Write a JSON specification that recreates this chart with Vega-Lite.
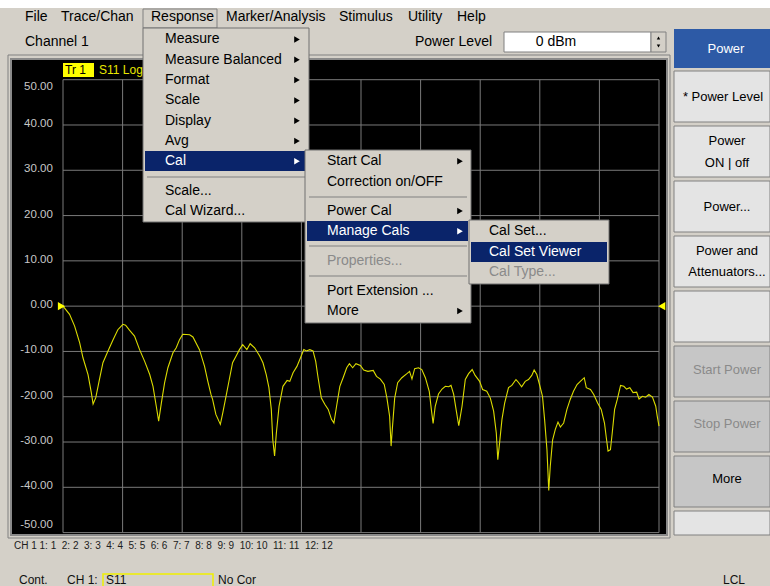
{
"$schema":"https://vega.github.io/schema/vega-lite/v6.json",
"width":656,"height":476,
"autosize":{"type":"none"},
"padding":{"left":11,"top":59,"right":103,"bottom":51},
"background":"#d4d0c8",
"config":{"view":{"fill":"#000000","stroke":"#8a8a8a","strokeWidth":2},"text":{"font":"Liberation Sans"}},
"datasets":{
"trace":[{"i":0,"db":0},{"i":2.2,"db":-1.8},{"i":3.9,"db":-4.4},{"i":5.6,"db":-8.1},{"i":6.7,"db":-11.4},{"i":8.4,"db":-15.1},{"i":9.5,"db":-19.1},{"i":10.1,"db":-21.6},{"i":11,"db":-20.2},{"i":12.1,"db":-16.6},{"i":13.4,"db":-12.5},{"i":15.1,"db":-9.9},{"i":16.8,"db":-7.4},{"i":18.4,"db":-5.2},{"i":20.1,"db":-4.0},{"i":21,"db":-4.2},{"i":22.3,"db":-5.3},{"i":24,"db":-6.6},{"i":25.7,"db":-9.6},{"i":27.4,"db":-12.2},{"i":29.1,"db":-15.1},{"i":30.2,"db":-17.7},{"i":31.3,"db":-22.1},{"i":32.1,"db":-25.4},{"i":33,"db":-21.4},{"i":34.1,"db":-16.9},{"i":35.2,"db":-13.6},{"i":36.9,"db":-10.3},{"i":38,"db":-9.2},{"i":39.1,"db":-7.4},{"i":40.2,"db":-6.2},{"i":42.5,"db":-6.3},{"i":43.6,"db":-6.8},{"i":45.8,"db":-9.6},{"i":47.5,"db":-13.3},{"i":48.6,"db":-16.6},{"i":49.7,"db":-19.6},{"i":50.2,"db":-20.6},{"i":51.3,"db":-23.9},{"i":52.8,"db":-26.1},{"i":53.6,"db":-23.6},{"i":54.7,"db":-19.9},{"i":55.8,"db":-16.2},{"i":56.9,"db":-12.5},{"i":58.1,"db":-11.0},{"i":59.2,"db":-9.6},{"i":60.3,"db":-8.5},{"i":61.7,"db":-9.6},{"i":62.8,"db":-8.3},{"i":64.3,"db":-9.2},{"i":66,"db":-11.0},{"i":67.1,"db":-12.5},{"i":68.2,"db":-15.1},{"i":69.1,"db":-18.0},{"i":69.9,"db":-22.8},{"i":70.4,"db":-29.5},{"i":71,"db":-33.1},{"i":71.6,"db":-28.0},{"i":72.5,"db":-22.1},{"i":73.8,"db":-17.7},{"i":75.2,"db":-16.4},{"i":76.1,"db":-16.6},{"i":77.2,"db":-14.7},{"i":78.5,"db":-13.3},{"i":79.7,"db":-11.4},{"i":80.8,"db":-9.6},{"i":81.7,"db":-9.9},{"i":82.8,"db":-9.6},{"i":83.9,"db":-9.9},{"i":84.8,"db":-12.2},{"i":85.6,"db":-15.8},{"i":86.7,"db":-20.3},{"i":87.9,"db":-21.7},{"i":89,"db":-22.8},{"i":90.1,"db":-25.0},{"i":90.9,"db":-25.8},{"i":91.8,"db":-22.1},{"i":92.9,"db":-17.7},{"i":94,"db":-15.8},{"i":95.2,"db":-13.6},{"i":96.1,"db":-12.7},{"i":97.2,"db":-13.6},{"i":98.3,"db":-12.7},{"i":99.8,"db":-13.1},{"i":100.9,"db":-14.1},{"i":102.3,"db":-14.4},{"i":104.1,"db":-14.2},{"i":105.2,"db":-15.5},{"i":106.5,"db":-16.1},{"i":107.8,"db":-17.3},{"i":108.7,"db":-20.3},{"i":109.6,"db":-24.3},{"i":110.1,"db":-30.9},{"i":110.5,"db":-27.2},{"i":111.3,"db":-20.3},{"i":112.3,"db":-16.9},{"i":113.7,"db":-15.8},{"i":115.4,"db":-14.9},{"i":116.3,"db":-14.4},{"i":117.1,"db":-16.1},{"i":118,"db":-13.8},{"i":119.3,"db":-13.6},{"i":120.4,"db":-14.0},{"i":121.6,"db":-15.8},{"i":122.9,"db":-18.8},{"i":123.6,"db":-22.8},{"i":124.2,"db":-25.9},{"i":124.9,"db":-22.1},{"i":126,"db":-19.4},{"i":127.2,"db":-18.3},{"i":128.3,"db":-17.7},{"i":129.4,"db":-17.8},{"i":130.2,"db":-17.5},{"i":131.1,"db":-19.5},{"i":131.9,"db":-22.8},{"i":132.8,"db":-26.4},{"i":133.9,"db":-22.1},{"i":135,"db":-16.2},{"i":136.1,"db":-14.9},{"i":137.3,"db":-14.0},{"i":138.3,"db":-15.3},{"i":139.8,"db":-16.6},{"i":140.8,"db":-18.4},{"i":142.2,"db":-18.8},{"i":143.4,"db":-20.3},{"i":144.5,"db":-23.2},{"i":145.4,"db":-28.0},{"i":145.9,"db":-33.9},{"i":146.5,"db":-30.2},{"i":147.3,"db":-25.0},{"i":148.2,"db":-21.4},{"i":149.5,"db":-18.0},{"i":150.6,"db":-17.5},{"i":152,"db":-16.2},{"i":152.8,"db":-16.8},{"i":153.9,"db":-17.8},{"i":155.1,"db":-16.6},{"i":156.2,"db":-16.2},{"i":157.3,"db":-15.3},{"i":158.1,"db":-14.1},{"i":159,"db":-15.1},{"i":159.9,"db":-17.3},{"i":160.9,"db":-19.9},{"i":161.6,"db":-25.0},{"i":162.4,"db":-31.7},{"i":163,"db":-40.7},{"i":163.5,"db":-35.4},{"i":164.3,"db":-29.5},{"i":165.2,"db":-27.2},{"i":166.1,"db":-25.6},{"i":166.9,"db":-26.7},{"i":168,"db":-25.8},{"i":169.1,"db":-22.8},{"i":170.2,"db":-20.6},{"i":171.3,"db":-18.8},{"i":172.5,"db":-17.3},{"i":173.6,"db":-16.6},{"i":174.9,"db":-15.8},{"i":175.6,"db":-18.0},{"i":177,"db":-18.4},{"i":178.1,"db":-19.5},{"i":179.4,"db":-21.4},{"i":180.6,"db":-22.8},{"i":181.7,"db":-25.8},{"i":182.4,"db":-29.5},{"i":182.9,"db":-32.0},{"i":183.7,"db":-31.7},{"i":184.3,"db":-28.0},{"i":185.1,"db":-22.8},{"i":186,"db":-20.6},{"i":187.1,"db":-17.5},{"i":188.2,"db":-17.7},{"i":189.1,"db":-18.3},{"i":190.2,"db":-18.0},{"i":191.3,"db":-19.1},{"i":192.5,"db":-19.0},{"i":193.3,"db":-20.5},{"i":194.4,"db":-19.9},{"i":195.5,"db":-20.1},{"i":196.6,"db":-19.5},{"i":197.8,"db":-20.1},{"i":198.9,"db":-22.1},{"i":199.4,"db":-24.3},{"i":200,"db":-26.5}],
"hgrid":[{"v":50,"lab":"50.00"},{"v":40,"lab":"40.00"},{"v":30,"lab":"30.00"},{"v":20,"lab":"20.00"},{"v":10,"lab":"10.00"},{"v":0,"lab":"0.00"},{"v":-10,"lab":"-10.00"},{"v":-20,"lab":"-20.00"},{"v":-30,"lab":"-30.00"},{"v":-40,"lab":"-40.00"},{"v":-50,"lab":"-50.00"}],
"vgrid":[{"i":0},{"i":20},{"i":40},{"i":60},{"i":80},{"i":100},{"i":120},{"i":140},{"i":160},{"i":180},{"i":200}]
},
"resolve":{"scale":{"x":"independent","y":"independent"}},
"layer":[
{"layer":[
{"data":{"name":"vgrid"},"mark":{"type":"rule","stroke":"#7a7a7a","strokeWidth":1},"encoding":{"x":{"field":"i","type":"quantitative","scale":{"domain":[-17.45,202.68],"nice":false,"zero":false},"axis":null},"y":{"datum":50,"type":"quantitative","scale":{"domain":[-50.53,54.57],"nice":false,"zero":false},"axis":null},"y2":{"datum":-50}}},
{"data":{"name":"hgrid"},"mark":{"type":"rule","stroke":"#7a7a7a","strokeWidth":1},"encoding":{"y":{"field":"v","type":"quantitative","scale":{"domain":[-50.53,54.57],"nice":false,"zero":false},"axis":null},"x":{"datum":0,"type":"quantitative","scale":{"domain":[-17.45,202.68],"nice":false,"zero":false},"axis":null},"x2":{"datum":200}}},
{"data":{"name":"trace"},"mark":{"type":"line","stroke":"#dcdc00","strokeWidth":1.1},"encoding":{"x":{"field":"i","type":"quantitative","scale":{"domain":[-17.45,202.68],"nice":false,"zero":false},"axis":null},"y":{"field":"db","type":"quantitative","scale":{"domain":[-50.53,54.57],"nice":false,"zero":false},"axis":null}}},
{"data":{"name":"hgrid"},"transform":[{"filter":"datum.v > -50 && datum.v < 50"}],"mark":{"type":"text","align":"right","baseline":"middle","fontSize":11.5,"color":"#c8c8c8","dy":-1},"encoding":{"x":{"datum":-3.4,"type":"quantitative","scale":{"domain":[-17.45,202.68],"nice":false,"zero":false},"axis":null},"y":{"field":"v","type":"quantitative","scale":{"domain":[-50.53,54.57],"nice":false,"zero":false},"axis":null},"text":{"field":"lab"}}},
{"data":{"name":"hgrid"},"transform":[{"filter":"datum.v == 50"}],"mark":{"type":"text","align":"right","baseline":"top","fontSize":11.5,"color":"#c8c8c8","dy":1},"encoding":{"x":{"datum":-3.4,"type":"quantitative","scale":{"domain":[-17.45,202.68],"nice":false,"zero":false},"axis":null},"y":{"field":"v","type":"quantitative","scale":{"domain":[-50.53,54.57],"nice":false,"zero":false},"axis":null},"text":{"field":"lab"}}},
{"data":{"name":"hgrid"},"transform":[{"filter":"datum.v == -50"}],"mark":{"type":"text","align":"right","baseline":"bottom","fontSize":11.5,"color":"#c8c8c8","dy":-3},"encoding":{"x":{"datum":-3.4,"type":"quantitative","scale":{"domain":[-17.45,202.68],"nice":false,"zero":false},"axis":null},"y":{"field":"v","type":"quantitative","scale":{"domain":[-50.53,54.57],"nice":false,"zero":false},"axis":null},"text":{"field":"lab"}}},
{"data":{"values":[{}]},"mark":{"type":"point","shape":"triangle-right","filled":true,"color":"#ffff00","size":70,"opacity":1},"encoding":{"x":{"datum":-0.5,"type":"quantitative","scale":{"domain":[-17.45,202.68],"nice":false,"zero":false},"axis":null},"y":{"datum":0,"type":"quantitative","scale":{"domain":[-50.53,54.57],"nice":false,"zero":false},"axis":null}}},
{"data":{"values":[{}]},"mark":{"type":"point","shape":"triangle-left","filled":true,"color":"#ffff00","size":70,"opacity":1},"encoding":{"x":{"datum":200.9,"type":"quantitative","scale":{"domain":[-17.45,202.68],"nice":false,"zero":false},"axis":null},"y":{"datum":0,"type":"quantitative","scale":{"domain":[-50.53,54.57],"nice":false,"zero":false},"axis":null}}}
]},
{"layer":[
{"data":{"values":[{}]},"mark":{"type":"rect","fill":"#ffffff"},"encoding":{"x":{"datum":0,"type":"quantitative","scale":{"domain":[11,667],"nice":false,"zero":false},"axis":null},"x2":{"datum":770},"y":{"datum":0,"type":"quantitative","scale":{"domain":[59,535],"reverse":true,"nice":false,"zero":false},"axis":null},"y2":{"datum":8}}},
{"data":{"values":[{}]},"mark":{"type":"rect","fill":"#d4d0c8","stroke":"#808080","strokeWidth":1},"encoding":{"x":{"datum":143,"type":"quantitative","scale":{"domain":[11,667],"nice":false,"zero":false},"axis":null},"x2":{"datum":217},"y":{"datum":9,"type":"quantitative","scale":{"domain":[59,535],"reverse":true,"nice":false,"zero":false},"axis":null},"y2":{"datum":28}}},
{"data":{"values":[{}]},"mark":{"type":"text","align":"left","baseline":"middle","fontSize":14,"color":"#000000"},"encoding":{"x":{"datum":25,"type":"quantitative","scale":{"domain":[11,667],"nice":false,"zero":false},"axis":null},"y":{"datum":17,"type":"quantitative","scale":{"domain":[59,535],"reverse":true,"nice":false,"zero":false},"axis":null},"text":{"value":"File"}}},
{"data":{"values":[{}]},"mark":{"type":"text","align":"left","baseline":"middle","fontSize":14,"color":"#000000"},"encoding":{"x":{"datum":61,"type":"quantitative","scale":{"domain":[11,667],"nice":false,"zero":false},"axis":null},"y":{"datum":17,"type":"quantitative","scale":{"domain":[59,535],"reverse":true,"nice":false,"zero":false},"axis":null},"text":{"value":"Trace/Chan"}}},
{"data":{"values":[{}]},"mark":{"type":"text","align":"left","baseline":"middle","fontSize":14,"color":"#000000"},"encoding":{"x":{"datum":151,"type":"quantitative","scale":{"domain":[11,667],"nice":false,"zero":false},"axis":null},"y":{"datum":17,"type":"quantitative","scale":{"domain":[59,535],"reverse":true,"nice":false,"zero":false},"axis":null},"text":{"value":"Response"}}},
{"data":{"values":[{}]},"mark":{"type":"text","align":"left","baseline":"middle","fontSize":14,"color":"#000000"},"encoding":{"x":{"datum":226,"type":"quantitative","scale":{"domain":[11,667],"nice":false,"zero":false},"axis":null},"y":{"datum":17,"type":"quantitative","scale":{"domain":[59,535],"reverse":true,"nice":false,"zero":false},"axis":null},"text":{"value":"Marker/Analysis"}}},
{"data":{"values":[{}]},"mark":{"type":"text","align":"left","baseline":"middle","fontSize":14,"color":"#000000"},"encoding":{"x":{"datum":339,"type":"quantitative","scale":{"domain":[11,667],"nice":false,"zero":false},"axis":null},"y":{"datum":17,"type":"quantitative","scale":{"domain":[59,535],"reverse":true,"nice":false,"zero":false},"axis":null},"text":{"value":"Stimulus"}}},
{"data":{"values":[{}]},"mark":{"type":"text","align":"left","baseline":"middle","fontSize":14,"color":"#000000"},"encoding":{"x":{"datum":408,"type":"quantitative","scale":{"domain":[11,667],"nice":false,"zero":false},"axis":null},"y":{"datum":17,"type":"quantitative","scale":{"domain":[59,535],"reverse":true,"nice":false,"zero":false},"axis":null},"text":{"value":"Utility"}}},
{"data":{"values":[{}]},"mark":{"type":"text","align":"left","baseline":"middle","fontSize":14,"color":"#000000"},"encoding":{"x":{"datum":457,"type":"quantitative","scale":{"domain":[11,667],"nice":false,"zero":false},"axis":null},"y":{"datum":17,"type":"quantitative","scale":{"domain":[59,535],"reverse":true,"nice":false,"zero":false},"axis":null},"text":{"value":"Help"}}},
{"data":{"values":[{}]},"mark":{"type":"text","align":"left","baseline":"middle","fontSize":14,"color":"#000000"},"encoding":{"x":{"datum":25,"type":"quantitative","scale":{"domain":[11,667],"nice":false,"zero":false},"axis":null},"y":{"datum":42,"type":"quantitative","scale":{"domain":[59,535],"reverse":true,"nice":false,"zero":false},"axis":null},"text":{"value":"Channel 1"}}},
{"data":{"values":[{}]},"mark":{"type":"text","align":"left","baseline":"middle","fontSize":14,"color":"#000000"},"encoding":{"x":{"datum":415,"type":"quantitative","scale":{"domain":[11,667],"nice":false,"zero":false},"axis":null},"y":{"datum":42,"type":"quantitative","scale":{"domain":[59,535],"reverse":true,"nice":false,"zero":false},"axis":null},"text":{"value":"Power Level"}}},
{"data":{"values":[{}]},"mark":{"type":"rect","fill":"#ffffff","stroke":"#808080","strokeWidth":1},"encoding":{"x":{"datum":504,"type":"quantitative","scale":{"domain":[11,667],"nice":false,"zero":false},"axis":null},"x2":{"datum":651},"y":{"datum":32,"type":"quantitative","scale":{"domain":[59,535],"reverse":true,"nice":false,"zero":false},"axis":null},"y2":{"datum":52}}},
{"data":{"values":[{}]},"mark":{"type":"text","align":"center","baseline":"middle","fontSize":14,"color":"#000000"},"encoding":{"x":{"datum":556,"type":"quantitative","scale":{"domain":[11,667],"nice":false,"zero":false},"axis":null},"y":{"datum":42,"type":"quantitative","scale":{"domain":[59,535],"reverse":true,"nice":false,"zero":false},"axis":null},"text":{"value":"0 dBm"}}},
{"data":{"values":[{}]},"mark":{"type":"rect","fill":"#d4d0c8","stroke":"#808080","strokeWidth":1},"encoding":{"x":{"datum":651,"type":"quantitative","scale":{"domain":[11,667],"nice":false,"zero":false},"axis":null},"x2":{"datum":666},"y":{"datum":32,"type":"quantitative","scale":{"domain":[59,535],"reverse":true,"nice":false,"zero":false},"axis":null},"y2":{"datum":52}}},
{"data":{"values":[{}]},"mark":{"type":"point","shape":"triangle-up","filled":true,"color":"#000000","size":12,"opacity":1},"encoding":{"x":{"datum":658.5,"type":"quantitative","scale":{"domain":[11,667],"nice":false,"zero":false},"axis":null},"y":{"datum":38,"type":"quantitative","scale":{"domain":[59,535],"reverse":true,"nice":false,"zero":false},"axis":null}}},
{"data":{"values":[{}]},"mark":{"type":"point","shape":"triangle-down","filled":true,"color":"#000000","size":12,"opacity":1},"encoding":{"x":{"datum":658.5,"type":"quantitative","scale":{"domain":[11,667],"nice":false,"zero":false},"axis":null},"y":{"datum":46,"type":"quantitative","scale":{"domain":[59,535],"reverse":true,"nice":false,"zero":false},"axis":null}}},
{"data":{"values":[{}]},"mark":{"type":"rect","fill":"transparent","stroke":"#808080","strokeWidth":1},"encoding":{"x":{"datum":8,"type":"quantitative","scale":{"domain":[11,667],"nice":false,"zero":false},"axis":null},"x2":{"datum":670},"y":{"datum":55,"type":"quantitative","scale":{"domain":[59,535],"reverse":true,"nice":false,"zero":false},"axis":null},"y2":{"datum":538}}},
{"data":{"values":[{}]},"mark":{"type":"rect","fill":"#2d5aa6"},"encoding":{"x":{"datum":674,"type":"quantitative","scale":{"domain":[11,667],"nice":false,"zero":false},"axis":null},"x2":{"datum":770},"y":{"datum":29,"type":"quantitative","scale":{"domain":[59,535],"reverse":true,"nice":false,"zero":false},"axis":null},"y2":{"datum":68}}},
{"data":{"values":[{}]},"mark":{"type":"text","align":"center","baseline":"middle","fontSize":13,"color":"#ffffff"},"encoding":{"x":{"datum":726,"type":"quantitative","scale":{"domain":[11,667],"nice":false,"zero":false},"axis":null},"y":{"datum":49,"type":"quantitative","scale":{"domain":[59,535],"reverse":true,"nice":false,"zero":false},"axis":null},"text":{"value":"Power"}}},
{"data":{"values":[{}]},"mark":{"type":"rect","fill":"#e4e4e4","stroke":"#808080","strokeWidth":1},"encoding":{"x":{"datum":674,"type":"quantitative","scale":{"domain":[11,667],"nice":false,"zero":false},"axis":null},"x2":{"datum":770},"y":{"datum":71,"type":"quantitative","scale":{"domain":[59,535],"reverse":true,"nice":false,"zero":false},"axis":null},"y2":{"datum":122}}},
{"data":{"values":[{}]},"mark":{"type":"rect","fill":"#e4e4e4","stroke":"#808080","strokeWidth":1},"encoding":{"x":{"datum":674,"type":"quantitative","scale":{"domain":[11,667],"nice":false,"zero":false},"axis":null},"x2":{"datum":770},"y":{"datum":126,"type":"quantitative","scale":{"domain":[59,535],"reverse":true,"nice":false,"zero":false},"axis":null},"y2":{"datum":177}}},
{"data":{"values":[{}]},"mark":{"type":"rect","fill":"#e4e4e4","stroke":"#808080","strokeWidth":1},"encoding":{"x":{"datum":674,"type":"quantitative","scale":{"domain":[11,667],"nice":false,"zero":false},"axis":null},"x2":{"datum":770},"y":{"datum":181,"type":"quantitative","scale":{"domain":[59,535],"reverse":true,"nice":false,"zero":false},"axis":null},"y2":{"datum":232}}},
{"data":{"values":[{}]},"mark":{"type":"rect","fill":"#e4e4e4","stroke":"#808080","strokeWidth":1},"encoding":{"x":{"datum":674,"type":"quantitative","scale":{"domain":[11,667],"nice":false,"zero":false},"axis":null},"x2":{"datum":770},"y":{"datum":236,"type":"quantitative","scale":{"domain":[59,535],"reverse":true,"nice":false,"zero":false},"axis":null},"y2":{"datum":287}}},
{"data":{"values":[{}]},"mark":{"type":"rect","fill":"#e4e4e4","stroke":"#808080","strokeWidth":1},"encoding":{"x":{"datum":674,"type":"quantitative","scale":{"domain":[11,667],"nice":false,"zero":false},"axis":null},"x2":{"datum":770},"y":{"datum":291,"type":"quantitative","scale":{"domain":[59,535],"reverse":true,"nice":false,"zero":false},"axis":null},"y2":{"datum":342}}},
{"data":{"values":[{}]},"mark":{"type":"rect","fill":"#c6c6c6","stroke":"#808080","strokeWidth":1},"encoding":{"x":{"datum":674,"type":"quantitative","scale":{"domain":[11,667],"nice":false,"zero":false},"axis":null},"x2":{"datum":770},"y":{"datum":346,"type":"quantitative","scale":{"domain":[59,535],"reverse":true,"nice":false,"zero":false},"axis":null},"y2":{"datum":397}}},
{"data":{"values":[{}]},"mark":{"type":"rect","fill":"#c6c6c6","stroke":"#808080","strokeWidth":1},"encoding":{"x":{"datum":674,"type":"quantitative","scale":{"domain":[11,667],"nice":false,"zero":false},"axis":null},"x2":{"datum":770},"y":{"datum":401,"type":"quantitative","scale":{"domain":[59,535],"reverse":true,"nice":false,"zero":false},"axis":null},"y2":{"datum":452}}},
{"data":{"values":[{}]},"mark":{"type":"rect","fill":"#c6c6c6","stroke":"#808080","strokeWidth":1},"encoding":{"x":{"datum":674,"type":"quantitative","scale":{"domain":[11,667],"nice":false,"zero":false},"axis":null},"x2":{"datum":770},"y":{"datum":456,"type":"quantitative","scale":{"domain":[59,535],"reverse":true,"nice":false,"zero":false},"axis":null},"y2":{"datum":507}}},
{"data":{"values":[{}]},"mark":{"type":"rect","fill":"#e4e4e4","stroke":"#808080","strokeWidth":1},"encoding":{"x":{"datum":674,"type":"quantitative","scale":{"domain":[11,667],"nice":false,"zero":false},"axis":null},"x2":{"datum":770},"y":{"datum":511,"type":"quantitative","scale":{"domain":[59,535],"reverse":true,"nice":false,"zero":false},"axis":null},"y2":{"datum":535}}},
{"data":{"values":[{}]},"mark":{"type":"text","align":"center","baseline":"middle","fontSize":13,"color":"#000000"},"encoding":{"x":{"datum":723,"type":"quantitative","scale":{"domain":[11,667],"nice":false,"zero":false},"axis":null},"y":{"datum":97,"type":"quantitative","scale":{"domain":[59,535],"reverse":true,"nice":false,"zero":false},"axis":null},"text":{"value":"* Power Level"}}},
{"data":{"values":[{}]},"mark":{"type":"text","align":"center","baseline":"middle","fontSize":13,"color":"#000000"},"encoding":{"x":{"datum":727,"type":"quantitative","scale":{"domain":[11,667],"nice":false,"zero":false},"axis":null},"y":{"datum":141,"type":"quantitative","scale":{"domain":[59,535],"reverse":true,"nice":false,"zero":false},"axis":null},"text":{"value":"Power"}}},
{"data":{"values":[{}]},"mark":{"type":"text","align":"center","baseline":"middle","fontSize":13,"color":"#000000"},"encoding":{"x":{"datum":727,"type":"quantitative","scale":{"domain":[11,667],"nice":false,"zero":false},"axis":null},"y":{"datum":163,"type":"quantitative","scale":{"domain":[59,535],"reverse":true,"nice":false,"zero":false},"axis":null},"text":{"value":"ON | off"}}},
{"data":{"values":[{}]},"mark":{"type":"text","align":"center","baseline":"middle","fontSize":13,"color":"#000000"},"encoding":{"x":{"datum":727,"type":"quantitative","scale":{"domain":[11,667],"nice":false,"zero":false},"axis":null},"y":{"datum":207,"type":"quantitative","scale":{"domain":[59,535],"reverse":true,"nice":false,"zero":false},"axis":null},"text":{"value":"Power..."}}},
{"data":{"values":[{}]},"mark":{"type":"text","align":"center","baseline":"middle","fontSize":13,"color":"#000000"},"encoding":{"x":{"datum":727,"type":"quantitative","scale":{"domain":[11,667],"nice":false,"zero":false},"axis":null},"y":{"datum":251,"type":"quantitative","scale":{"domain":[59,535],"reverse":true,"nice":false,"zero":false},"axis":null},"text":{"value":"Power and"}}},
{"data":{"values":[{}]},"mark":{"type":"text","align":"center","baseline":"middle","fontSize":13,"color":"#000000"},"encoding":{"x":{"datum":727,"type":"quantitative","scale":{"domain":[11,667],"nice":false,"zero":false},"axis":null},"y":{"datum":272,"type":"quantitative","scale":{"domain":[59,535],"reverse":true,"nice":false,"zero":false},"axis":null},"text":{"value":"Attenuators..."}}},
{"data":{"values":[{}]},"mark":{"type":"text","align":"center","baseline":"middle","fontSize":13,"color":"#8a8a8a"},"encoding":{"x":{"datum":727,"type":"quantitative","scale":{"domain":[11,667],"nice":false,"zero":false},"axis":null},"y":{"datum":370,"type":"quantitative","scale":{"domain":[59,535],"reverse":true,"nice":false,"zero":false},"axis":null},"text":{"value":"Start Power"}}},
{"data":{"values":[{}]},"mark":{"type":"text","align":"center","baseline":"middle","fontSize":13,"color":"#8a8a8a"},"encoding":{"x":{"datum":727,"type":"quantitative","scale":{"domain":[11,667],"nice":false,"zero":false},"axis":null},"y":{"datum":424,"type":"quantitative","scale":{"domain":[59,535],"reverse":true,"nice":false,"zero":false},"axis":null},"text":{"value":"Stop Power"}}},
{"data":{"values":[{}]},"mark":{"type":"text","align":"center","baseline":"middle","fontSize":13,"color":"#000000"},"encoding":{"x":{"datum":727,"type":"quantitative","scale":{"domain":[11,667],"nice":false,"zero":false},"axis":null},"y":{"datum":479,"type":"quantitative","scale":{"domain":[59,535],"reverse":true,"nice":false,"zero":false},"axis":null},"text":{"value":"More"}}},
{"data":{"values":[{}]},"mark":{"type":"text","align":"left","baseline":"middle","fontSize":10,"color":"#202020"},"encoding":{"x":{"datum":14,"type":"quantitative","scale":{"domain":[11,667],"nice":false,"zero":false},"axis":null},"y":{"datum":546,"type":"quantitative","scale":{"domain":[59,535],"reverse":true,"nice":false,"zero":false},"axis":null},"text":{"value":"CH 1 1:\u00a01\u00a0\u00a02:\u00a02\u00a0\u00a03:\u00a03\u00a0\u00a04:\u00a04\u00a0\u00a05:\u00a05\u00a0\u00a06:\u00a06\u00a0\u00a07:\u00a07\u00a0\u00a08:\u00a08\u00a0\u00a09:\u00a09\u00a0\u00a010:\u00a010\u00a0\u00a011:\u00a011\u00a0\u00a012:\u00a012"}}},
{"data":{"values":[{}]},"mark":{"type":"text","align":"left","baseline":"middle","fontSize":12,"color":"#101010"},"encoding":{"x":{"datum":19,"type":"quantitative","scale":{"domain":[11,667],"nice":false,"zero":false},"axis":null},"y":{"datum":580,"type":"quantitative","scale":{"domain":[59,535],"reverse":true,"nice":false,"zero":false},"axis":null},"text":{"value":"Cont."}}},
{"data":{"values":[{}]},"mark":{"type":"text","align":"left","baseline":"middle","fontSize":12,"color":"#101010"},"encoding":{"x":{"datum":67,"type":"quantitative","scale":{"domain":[11,667],"nice":false,"zero":false},"axis":null},"y":{"datum":580,"type":"quantitative","scale":{"domain":[59,535],"reverse":true,"nice":false,"zero":false},"axis":null},"text":{"value":"CH 1:"}}},
{"data":{"values":[{}]},"mark":{"type":"rect","fill":"transparent","stroke":"#f0f000","strokeWidth":1.5},"encoding":{"x":{"datum":103,"type":"quantitative","scale":{"domain":[11,667],"nice":false,"zero":false},"axis":null},"x2":{"datum":213},"y":{"datum":574,"type":"quantitative","scale":{"domain":[59,535],"reverse":true,"nice":false,"zero":false},"axis":null},"y2":{"datum":592}}},
{"data":{"values":[{}]},"mark":{"type":"text","align":"left","baseline":"middle","fontSize":12,"color":"#101010"},"encoding":{"x":{"datum":106,"type":"quantitative","scale":{"domain":[11,667],"nice":false,"zero":false},"axis":null},"y":{"datum":580,"type":"quantitative","scale":{"domain":[59,535],"reverse":true,"nice":false,"zero":false},"axis":null},"text":{"value":"S11"}}},
{"data":{"values":[{}]},"mark":{"type":"text","align":"left","baseline":"middle","fontSize":12,"color":"#101010"},"encoding":{"x":{"datum":218,"type":"quantitative","scale":{"domain":[11,667],"nice":false,"zero":false},"axis":null},"y":{"datum":580,"type":"quantitative","scale":{"domain":[59,535],"reverse":true,"nice":false,"zero":false},"axis":null},"text":{"value":"No Cor"}}},
{"data":{"values":[{}]},"mark":{"type":"text","align":"left","baseline":"middle","fontSize":12,"color":"#101010"},"encoding":{"x":{"datum":723,"type":"quantitative","scale":{"domain":[11,667],"nice":false,"zero":false},"axis":null},"y":{"datum":580,"type":"quantitative","scale":{"domain":[59,535],"reverse":true,"nice":false,"zero":false},"axis":null},"text":{"value":"LCL"}}},
{"data":{"values":[{}]},"mark":{"type":"rect","fill":"#ffff00"},"encoding":{"x":{"datum":63,"type":"quantitative","scale":{"domain":[11,667],"nice":false,"zero":false},"axis":null},"x2":{"datum":94},"y":{"datum":63,"type":"quantitative","scale":{"domain":[59,535],"reverse":true,"nice":false,"zero":false},"axis":null},"y2":{"datum":77}}},
{"data":{"values":[{}]},"mark":{"type":"text","align":"left","baseline":"middle","fontSize":12,"color":"#000000"},"encoding":{"x":{"datum":65,"type":"quantitative","scale":{"domain":[11,667],"nice":false,"zero":false},"axis":null},"y":{"datum":70,"type":"quantitative","scale":{"domain":[59,535],"reverse":true,"nice":false,"zero":false},"axis":null},"text":{"value":"Tr  1"}}},
{"data":{"values":[{}]},"mark":{"type":"text","align":"left","baseline":"middle","fontSize":12,"color":"#e8e800"},"encoding":{"x":{"datum":99,"type":"quantitative","scale":{"domain":[11,667],"nice":false,"zero":false},"axis":null},"y":{"datum":70,"type":"quantitative","scale":{"domain":[59,535],"reverse":true,"nice":false,"zero":false},"axis":null},"text":{"value":"S11 LogM"}}},
{"data":{"values":[{}]},"mark":{"type":"rect","fill":"#d4d0c8","stroke":"#707070","strokeWidth":1},"encoding":{"x":{"datum":143,"type":"quantitative","scale":{"domain":[11,667],"nice":false,"zero":false},"axis":null},"x2":{"datum":309},"y":{"datum":28,"type":"quantitative","scale":{"domain":[59,535],"reverse":true,"nice":false,"zero":false},"axis":null},"y2":{"datum":222}}},
{"data":{"values":[{}]},"mark":{"type":"rect","fill":"#0a246a"},"encoding":{"x":{"datum":145,"type":"quantitative","scale":{"domain":[11,667],"nice":false,"zero":false},"axis":null},"x2":{"datum":306},"y":{"datum":151,"type":"quantitative","scale":{"domain":[59,535],"reverse":true,"nice":false,"zero":false},"axis":null},"y2":{"datum":171}}},
{"data":{"values":[{}]},"mark":{"type":"rule","stroke":"#808080"},"encoding":{"x":{"datum":147,"type":"quantitative","scale":{"domain":[11,667],"nice":false,"zero":false},"axis":null},"x2":{"datum":305},"y":{"datum":177,"type":"quantitative","scale":{"domain":[59,535],"reverse":true,"nice":false,"zero":false},"axis":null}}},
{"data":{"values":[{}]},"mark":{"type":"rect","fill":"#d4d0c8","stroke":"#707070","strokeWidth":1},"encoding":{"x":{"datum":305,"type":"quantitative","scale":{"domain":[11,667],"nice":false,"zero":false},"axis":null},"x2":{"datum":471},"y":{"datum":150,"type":"quantitative","scale":{"domain":[59,535],"reverse":true,"nice":false,"zero":false},"axis":null},"y2":{"datum":323}}},
{"data":{"values":[{}]},"mark":{"type":"rect","fill":"#0a246a"},"encoding":{"x":{"datum":307,"type":"quantitative","scale":{"domain":[11,667],"nice":false,"zero":false},"axis":null},"x2":{"datum":468},"y":{"datum":221,"type":"quantitative","scale":{"domain":[59,535],"reverse":true,"nice":false,"zero":false},"axis":null},"y2":{"datum":241}}},
{"data":{"values":[{}]},"mark":{"type":"rule","stroke":"#808080"},"encoding":{"x":{"datum":309,"type":"quantitative","scale":{"domain":[11,667],"nice":false,"zero":false},"axis":null},"x2":{"datum":467},"y":{"datum":197,"type":"quantitative","scale":{"domain":[59,535],"reverse":true,"nice":false,"zero":false},"axis":null}}},
{"data":{"values":[{}]},"mark":{"type":"rule","stroke":"#808080"},"encoding":{"x":{"datum":309,"type":"quantitative","scale":{"domain":[11,667],"nice":false,"zero":false},"axis":null},"x2":{"datum":467},"y":{"datum":246,"type":"quantitative","scale":{"domain":[59,535],"reverse":true,"nice":false,"zero":false},"axis":null}}},
{"data":{"values":[{}]},"mark":{"type":"rule","stroke":"#808080"},"encoding":{"x":{"datum":309,"type":"quantitative","scale":{"domain":[11,667],"nice":false,"zero":false},"axis":null},"x2":{"datum":467},"y":{"datum":276,"type":"quantitative","scale":{"domain":[59,535],"reverse":true,"nice":false,"zero":false},"axis":null}}},
{"data":{"values":[{}]},"mark":{"type":"rect","fill":"#d4d0c8","stroke":"#707070","strokeWidth":1},"encoding":{"x":{"datum":469,"type":"quantitative","scale":{"domain":[11,667],"nice":false,"zero":false},"axis":null},"x2":{"datum":609},"y":{"datum":220,"type":"quantitative","scale":{"domain":[59,535],"reverse":true,"nice":false,"zero":false},"axis":null},"y2":{"datum":284}}},
{"data":{"values":[{}]},"mark":{"type":"rect","fill":"#0a246a"},"encoding":{"x":{"datum":471,"type":"quantitative","scale":{"domain":[11,667],"nice":false,"zero":false},"axis":null},"x2":{"datum":607},"y":{"datum":242,"type":"quantitative","scale":{"domain":[59,535],"reverse":true,"nice":false,"zero":false},"axis":null},"y2":{"datum":262}}}
]},
{"layer":[
{"data":{"values":[{"t":"Measure","s":0},{"t":"Measure Balanced","s":1},{"t":"Format","s":2},{"t":"Scale","s":3},{"t":"Display","s":4},{"t":"Avg","s":5},{"t":"Cal","s":6},{"t":"Scale...","s":7.46},{"t":"Cal Wizard...","s":8.45}]},"mark":{"type":"text","align":"left","baseline":"middle","fontSize":14},"encoding":{"x":{"datum":165,"type":"quantitative","scale":{"domain":[11,667],"nice":false,"zero":false},"axis":null},"y":{"field":"s","type":"quantitative","scale":{"domain":[0.9606,24.409],"reverse":true,"nice":false,"zero":false},"axis":null},"text":{"field":"t"},"color":{"condition":{"test":"datum.t === 'Cal'","value":"#ffffff"},"value":"#000000"}}},
{"data":{"values":[{"s":0},{"s":1},{"s":2},{"s":3},{"s":4},{"s":5},{"s":6}]},"mark":{"type":"point","shape":"triangle-right","filled":true,"size":42,"opacity":1},"encoding":{"x":{"datum":297,"type":"quantitative","scale":{"domain":[11,667],"nice":false,"zero":false},"axis":null},"y":{"field":"s","type":"quantitative","scale":{"domain":[0.9606,24.409],"reverse":true,"nice":false,"zero":false},"axis":null},"color":{"condition":{"test":"datum.s === 6","value":"#ffffff"},"value":"#000000"}}},
{"data":{"values":[{"t":"Start Cal","s":6},{"t":"Correction on/OFF","s":7.02},{"t":"Power Cal","s":8.45},{"t":"Manage Cals","s":9.45},{"t":"Properties...","s":10.92},{"t":"Port Extension ...","s":12.4},{"t":"More","s":13.38}]},"mark":{"type":"text","align":"left","baseline":"middle","fontSize":14},"encoding":{"x":{"datum":327,"type":"quantitative","scale":{"domain":[11,667],"nice":false,"zero":false},"axis":null},"y":{"field":"s","type":"quantitative","scale":{"domain":[0.9606,24.409],"reverse":true,"nice":false,"zero":false},"axis":null},"text":{"field":"t"},"color":{"condition":[{"test":"datum.t === 'Manage Cals'","value":"#ffffff"},{"test":"datum.t === 'Properties...'","value":"#8a8a8a"}],"value":"#000000"}}},
{"data":{"values":[{"s":6},{"s":8.45},{"s":9.45},{"s":13.38}]},"mark":{"type":"point","shape":"triangle-right","filled":true,"size":42,"opacity":1},"encoding":{"x":{"datum":460,"type":"quantitative","scale":{"domain":[11,667],"nice":false,"zero":false},"axis":null},"y":{"field":"s","type":"quantitative","scale":{"domain":[0.9606,24.409],"reverse":true,"nice":false,"zero":false},"axis":null},"color":{"condition":{"test":"datum.s === 9.45","value":"#ffffff"},"value":"#000000"}}},
{"data":{"values":[{"t":"Cal Set...","s":9.45},{"t":"Cal Set Viewer","s":10.45},{"t":"Cal Type...","s":11.45}]},"mark":{"type":"text","align":"left","baseline":"middle","fontSize":14},"encoding":{"x":{"datum":489,"type":"quantitative","scale":{"domain":[11,667],"nice":false,"zero":false},"axis":null},"y":{"field":"s","type":"quantitative","scale":{"domain":[0.9606,24.409],"reverse":true,"nice":false,"zero":false},"axis":null},"text":{"field":"t"},"color":{"condition":[{"test":"datum.t === 'Cal Set Viewer'","value":"#ffffff"},{"test":"datum.t === 'Cal Type...'","value":"#8a8a8a"}],"value":"#000000"}}}
]}
]
}
